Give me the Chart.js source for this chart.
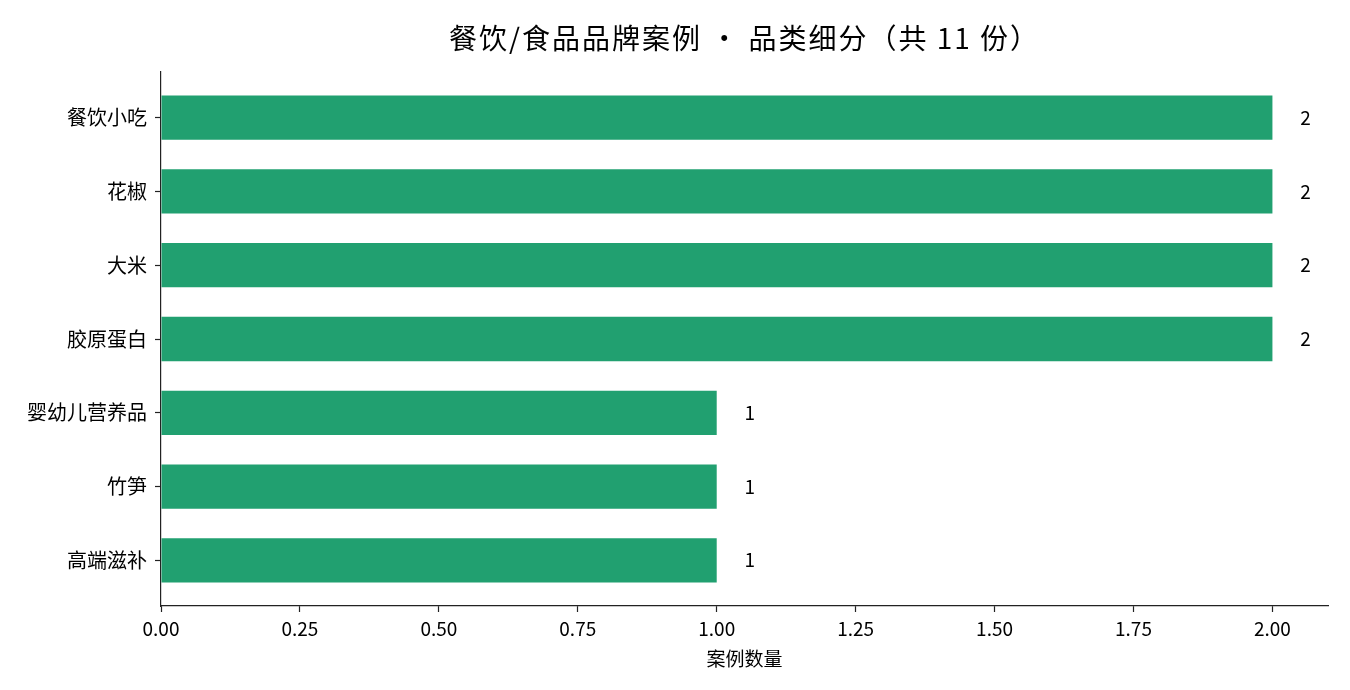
<!DOCTYPE html>
<html>
<head>
<meta charset="utf-8">
<script src="https://cdn.jsdelivr.net/npm/chart.js@4.4.0/dist/chart.umd.min.js"></script>
<style>
  body { margin: 0; background: #fff; }
  #wrap { width: 1350px; height: 690px; }
</style>
</head>
<body>
<div id="wrap"><canvas id="chart" width="1350" height="690"></canvas></div>
<script>
// categories top -> bottom
const categories = ["餐饮小吃", "花椒", "大米", "胶原蛋白", "婴幼儿营养品", "竹笋", "高端滋补"];
const counts = [2, 2, 2, 2, 1, 1, 1];
const xTicks = [0, 0.25, 0.5, 0.75, 1, 1.25, 1.5, 1.75, 2];
const titleText = "餐饮/食品品牌案例 · 品类细分（共 11 份）";
const xTitle = "案例数量";

const FONT = '"Noto Sans CJK SC", "Noto Sans", sans-serif';
const barColor = '#21a070';

// value labels at the end of each bar + title centred over the plot area
const extras = {
    id: 'extras',
    afterDatasetsDraw(chart) {
        const ctx = chart.ctx;
        const xs = chart.scales.x, ys = chart.scales.y;
        ctx.save();
        ctx.font = '19px ' + FONT;
        ctx.fillStyle = '#000';
        ctx.textAlign = 'left';
        ctx.textBaseline = 'middle';
        counts.forEach((v, i) => {
            ctx.fillText(String(v), xs.getPixelForValue(v + 0.05), ys.getPixelForValue(i));
        });

        const area = chart.chartArea;
        ctx.font = '28px ' + FONT;
        ctx.letterSpacing = '2px';
        ctx.textAlign = 'center';
        ctx.fillText(titleText, (area.left + area.right) / 2, 38);
        ctx.restore();
    }
};

new Chart(document.getElementById('chart').getContext('2d'), {
    type: 'bar',
    data: {
        datasets: [{
            data: counts.map((v, i) => ({ x: v, y: i })),
            backgroundColor: barColor,
            borderWidth: 0,
            barPercentage: 0.6,
            categoryPercentage: 1
        }]
    },
    options: {
        indexAxis: 'y',
        responsive: false,
        animation: false,
        layout: { padding: { left: 0, right: 22, top: 72, bottom: 0 } },
        plugins: {
            legend: { display: false },
            tooltip: { enabled: false },
            title: { display: false }
        },
        scales: {
            x: {
                type: 'linear',
                min: 0,
                max: 2.1,
                afterBuildTicks: s => { s.ticks = xTicks.map(v => ({ value: v })); },
                afterFit: s => { s.height = 84; },
                ticks: {
                    color: '#000',
                    font: { family: FONT, size: 19 },
                    padding: 5,
                    maxRotation: 0,
                    callback: v => v.toFixed(2)
                },
                grid: { drawOnChartArea: false, drawTicks: true, tickLength: 6, color: '#222', tickWidth: 1.2 },
                border: { color: '#222', width: 1.2 },
                title: {
                    display: true,
                    text: xTitle,
                    color: '#000',
                    font: { family: FONT, size: 19 },
                    padding: { top: 0, bottom: 20 }
                }
            },
            y: {
                type: 'linear',
                reverse: true,
                offset: false,
                min: -0.62,
                max: categories.length - 1 + 0.62,
                afterBuildTicks: s => { s.ticks = categories.map((c, i) => ({ value: i })); },
                afterFit: s => { s.width = 161; },
                ticks: {
                    color: '#000',
                    font: { family: FONT, size: 20 },
                    padding: 8,
                    callback: v => categories[v]
                },
                grid: { offset: false, drawOnChartArea: false, drawTicks: true, tickLength: 6, color: '#222', tickWidth: 1.2 },
                border: { color: '#222', width: 1.2 }
            }
        }
    },
    plugins: [extras]
});
</script>
</body>
</html>
